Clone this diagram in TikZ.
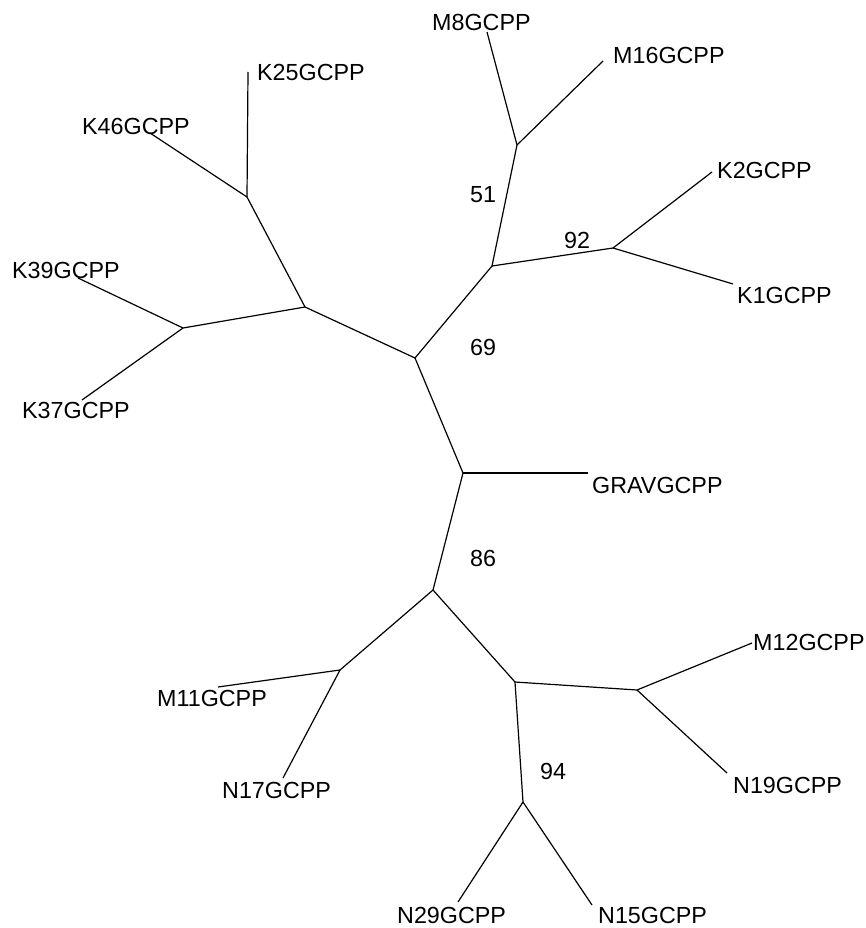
\documentclass[tikz,border=0pt]{standalone}
\usepackage{fontspec}
\setmainfont{Liberation Sans}
\begin{document}
\begin{tikzpicture}[x=1pt,y=-1pt,
  branch/.style={line width=1.2pt,black},
  leaf/.style={inner sep=0pt,anchor=west,font=\fontsize{23.3}{27}\selectfont},
  boot/.style={inner sep=0pt,font=\fontsize{23.3}{27}\selectfont}]
\useasboundingbox[fill=white] (0,0) rectangle (866,928);
% internal junctions
\coordinate (A) at (415,358);
\coordinate (B) at (463,473);
\coordinate (C) at (433,590);
\coordinate (D) at (305,307);
\coordinate (E) at (247,197);
\coordinate (F) at (183,328);
\coordinate (G) at (492,266);
\coordinate (H) at (517,145);
\coordinate (I) at (613,248);
\coordinate (J) at (340,670);
\coordinate (K) at (515,682);
\coordinate (L) at (637,690);
\coordinate (M) at (523,802);
% leaf ends
\coordinate (eM8) at (487,32);
\coordinate (eM16) at (603,61);
\coordinate (eK2) at (712,172);
\coordinate (eK1) at (733,284);
\coordinate (eK25) at (248,72);
\coordinate (eK46) at (150,133);
\coordinate (eK39) at (78,278);
\coordinate (eK37) at (82,400);
\coordinate (eGRAV) at (588,473);
\coordinate (eM11) at (218,687);
\coordinate (eN17) at (283,778);
\coordinate (eM12) at (752,643);
\coordinate (eN19) at (727,773);
\coordinate (eN29) at (458,902);
\coordinate (eN15) at (592,905);
% branches
\draw[branch] (A) -- (B) -- (C);
\draw[branch] (A) -- (D);
\draw[branch] (D) -- (E);
\draw[branch] (D) -- (F);
\draw[branch] (A) -- (G);
\draw[branch] (G) -- (H);
\draw[branch] (G) -- (I);
\draw[branch] (B) -- (eGRAV);
\draw[branch] (C) -- (J);
\draw[branch] (C) -- (K);
\draw[branch] (K) -- (L);
\draw[branch] (K) -- (M);
\draw[branch] (E) -- (eK25);
\draw[branch] (E) -- (eK46);
\draw[branch] (F) -- (eK39);
\draw[branch] (F) -- (eK37);
\draw[branch] (H) -- (eM8);
\draw[branch] (H) -- (eM16);
\draw[branch] (I) -- (eK2);
\draw[branch] (I) -- (eK1);
\draw[branch] (J) -- (eM11);
\draw[branch] (J) -- (eN17);
\draw[branch] (L) -- (eM12);
\draw[branch] (L) -- (eN19);
\draw[branch] (M) -- (eN29);
\draw[branch] (M) -- (eN15);
% leaf labels
\node[leaf] (tM8) at (432,22) {M8GCPP};
\node[leaf] (tM16) at (613,55) {M16GCPP};
\node[leaf] (tK2) at (717,170) {K2GCPP};
\node[leaf] (tK1) at (737,295) {K1GCPP};
\node[leaf] (tK25) at (257,72) {K25GCPP};
\node[leaf] (tK46) at (82,126) {K46GCPP};
\node[leaf] (tK39) at (12,270) {K39GCPP};
\node[leaf] (tK37) at (22,410) {K37GCPP};
\node[leaf] (tGRAV) at (592,485) {GRAVGCPP};
\node[leaf] (tM11) at (157,698) {M11GCPP};
\node[leaf] (tN17) at (222,790) {N17GCPP};
\node[leaf] (tM12) at (753,642) {M12GCPP};
\node[leaf] (tN19) at (733,785) {N19GCPP};
\node[leaf] (tN29) at (397,915) {N29GCPP};
\node[leaf] (tN15) at (598,915) {N15GCPP};
% bootstrap values
\node[boot] (b51) at (483,195) {51};
\node[boot] (b92) at (577,240) {92};
\node[boot] (b69) at (483,347) {69};
\node[boot] (b86) at (483,558) {86};
\node[boot] (b94) at (553,771) {94};
\end{tikzpicture}
\end{document}
